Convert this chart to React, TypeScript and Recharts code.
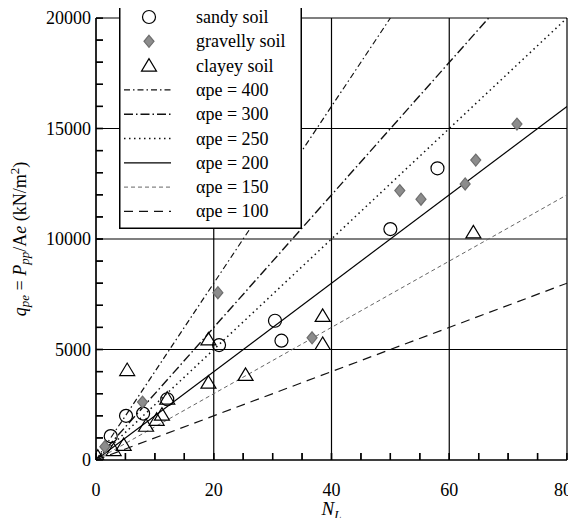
import React from 'react'
import { ScatterChart, Scatter, XAxis, YAxis, CartesianGrid } from 'recharts'

// measured points (N_L, q_pe)
const sandySoil = [
  { n: 2.5, q: 1080 }, { n: 5.1, q: 2000 }, { n: 8.0, q: 2100 }, { n: 12.1, q: 2750 },
  { n: 20.9, q: 5200 }, { n: 30.4, q: 6300 }, { n: 31.5, q: 5400 }, { n: 50.0, q: 10450 },
  { n: 58.0, q: 13200 },
]
const gravellySoil = [
  { n: 1.5, q: 600 }, { n: 7.9, q: 2620 }, { n: 20.7, q: 7570 }, { n: 36.7, q: 5530 },
  { n: 51.6, q: 12190 }, { n: 55.2, q: 11800 }, { n: 62.7, q: 12490 }, { n: 64.5, q: 13570 },
  { n: 71.5, q: 15200 },
]
const clayeySoil = [
  { n: 0.3, q: 150 }, { n: 3.0, q: 450 }, { n: 4.7, q: 680 }, { n: 5.3, q: 4070 },
  { n: 8.5, q: 1550 }, { n: 10.3, q: 1820 }, { n: 11.2, q: 2050 }, { n: 12.1, q: 2780 },
  { n: 19.1, q: 3500 }, { n: 19.1, q: 5460 }, { n: 25.4, q: 3850 }, { n: 38.5, q: 5250 },
  { n: 38.5, q: 6520 }, { n: 64.1, q: 10300 },
]

// q = alpha * N lines, end points
const line400 = [{ n: 0, q: 0 }, { n: 50, q: 20000 }]
const line300 = [{ n: 0, q: 0 }, { n: 66.7, q: 20000 }]
const line250 = [{ n: 0, q: 0 }, { n: 80, q: 20000 }]
const line200 = [{ n: 0, q: 0 }, { n: 80, q: 16000 }]
const line150 = [{ n: 0, q: 0 }, { n: 80, q: 12000 }]
const line100 = [{ n: 0, q: 0 }, { n: 80, q: 8000 }]

const xTicks = [0, 20, 40, 60, 80]
const yTicks = [0, 5000, 10000, 15000, 20000]
const xMinorTicks = [0, 5, 10, 15, 20, 25, 30, 35, 40, 45, 50, 55, 60, 65, 70, 75, 80]
const yMinorTicks = [
  0, 1000, 2000, 3000, 4000, 5000, 6000, 7000, 8000, 9000, 10000,
  11000, 12000, 13000, 14000, 15000, 16000, 17000, 18000, 19000, 20000,
]
// minor tick marks sit on the axes
const xMinorMarks = xMinorTicks.map((n) => ({ n, q: 0 }))
const yMinorMarks = yMinorTicks.map((q) => ({ n: 0, q }))

const FONT = "'Liberation Serif', 'Times New Roman', Times, 'DejaVu Serif', serif"

const lineStyles: Record<string, { dash?: string; width: number; color: string }> = {
  a400: { dash: '6 3 1.5 3', width: 1.2, color: '#111' },
  a300: { dash: '9 3 1.5 3', width: 1.4, color: '#111' },
  a250: { dash: '1.5 3.5', width: 1.5, color: '#111' },
  a200: { width: 1.2, color: '#000' },
  a150: { dash: '4 3', width: 1, color: '#666' },
  a100: { dash: '9 6', width: 1.2, color: '#111' },
}

const legendRows = [
  { kind: 'circle', label: 'sandy soil' },
  { kind: 'diamond', label: 'gravelly soil' },
  { kind: 'triangle', label: 'clayey soil' },
  { kind: 'a400', label: 'αpe = 400' },
  { kind: 'a300', label: 'αpe = 300' },
  { kind: 'a250', label: 'αpe = 250' },
  { kind: 'a200', label: 'αpe = 200' },
  { kind: 'a150', label: 'αpe = 150' },
  { kind: 'a100', label: 'αpe = 100' },
]

const Circle = (p: any) => (
  <circle cx={p.cx} cy={p.cy} r={6.5} fill="none" stroke="#000" strokeWidth={1.2} />
)
const Triangle = (p: any) => (
  <polygon
    points={`${p.cx},${p.cy - 7} ${p.cx - 7.5},${p.cy + 5.5} ${p.cx + 7.5},${p.cy + 5.5}`}
    fill="none" stroke="#000" strokeWidth={1.2}
  />
)
const Diamond = (p: any) => (
  <polygon
    points={`${p.cx},${p.cy - 6} ${p.cx + 5},${p.cy} ${p.cx},${p.cy + 6} ${p.cx - 5},${p.cy}`}
    fill="#8c8c8c" stroke="#6e6e6e" strokeWidth={1.2}
  />
)
const NoDot = () => <g />
const XMinor = (p: any) => (
  <rect x={p.cx - 0.7} y={p.cy - 7} width={1.4} height={7} fill="#000" />
)
const YMinor = (p: any) => (
  <rect x={p.cx} y={p.cy - 0.7} width={7} height={1.4} fill="#000" />
)
const XMinorTick = (p: any) => (
  <line x1={p.x} x2={p.x} y1={p.y} y2={p.y - 7} stroke="#000" strokeWidth={1.3} />
)
const YMinorTick = (p: any) => (
  <line x1={p.x} x2={p.x + 7} y1={p.y} y2={p.y} stroke="#000" strokeWidth={1.3} />
)

const XTick = (p: any) => {
  const v = p.payload.value
  return (
    <text x={v === 80 ? p.x - 4 : p.x} y={p.y} dy="0.71em" textAnchor="middle" fontSize={18}
      fill="#000" style={{ fontFamily: FONT }}>{v}</text>
  )
}

function LegendBox() {
  const rowH = 24.3
  return (
    <svg width={183} height={226} style={{ display: 'block' }}>
      <rect x={0.75} y={0.75} width={181.5} height={224.5} fill="#fff" stroke="#000" strokeWidth={1.5} />
      {legendRows.map((r, i) => {
        const cy = 14 + i * rowH
        let icon: React.ReactNode = null
        if (r.kind === 'circle') icon = <Circle cx={30} cy={cy} />
        else if (r.kind === 'diamond') icon = <Diamond cx={30} cy={cy} />
        else if (r.kind === 'triangle') icon = <Triangle cx={30} cy={cy} />
        else {
          const s = lineStyles[r.kind]
          icon = (
            <line x1={5} x2={52} y1={cy} y2={cy} stroke={s.color}
              strokeWidth={s.width} strokeDasharray={s.dash} />
          )
        }
        return (
          <g key={r.label}>
            {icon}
            <text x={77} y={cy + 6} fontSize={18} fill="#000" style={{ fontFamily: FONT }}>{r.label}</text>
          </g>
        )
      })}
    </svg>
  )
}

const YLabel = (props: any) => {
  const vb = props.viewBox
  const x = vb.x - 16
  const y = vb.y + vb.height / 2
  return (
    <text x={x} y={y} transform={`rotate(-90, ${x}, ${y})`} textAnchor="middle"
      dominantBaseline="central" fontSize={18} fill="#000" style={{ fontFamily: FONT }}>
      <tspan fontStyle="italic">q</tspan>
      <tspan fontStyle="italic" fontSize={13} dy={4}>pe</tspan>
      <tspan dy={-4}> = </tspan>
      <tspan fontStyle="italic">P</tspan>
      <tspan fontStyle="italic" fontSize={13} dy={4}>pp</tspan>
      <tspan dy={-4}>/A</tspan>
      <tspan fontStyle="italic">e</tspan>
      <tspan> (kN/m</tspan>
      <tspan fontSize={13} dy={-6}>2</tspan>
      <tspan dy={6}>)</tspan>
    </text>
  )
}

const XLabel = (props: any) => {
  const vb = props.viewBox
  const x = vb.x + vb.width / 2
  return (
    <text x={x} y={515} textAnchor="middle" fontSize={19} fill="#000" style={{ fontFamily: FONT }}>
      <tspan fontStyle="italic">N</tspan>
      <tspan fontStyle="italic" fontSize={13} dy={4}>L</tspan>
    </text>
  )
}

export default function App() {
  const tickStyle = { fontSize: 18, fill: '#000', style: { fontFamily: FONT } }
  return (
    <div style={{ margin: -8, width: 576, height: 526, background: '#fff', position: 'relative', fontFamily: FONT }}>
      <ScatterChart width={576} height={526} margin={{ top: 18, right: 9, bottom: 36, left: 36 }}>
        <CartesianGrid stroke="#000" strokeWidth={1.2} />
        <XAxis
          type="number" dataKey="n" domain={[0, 80]} ticks={xTicks} allowDataOverflow
          tickLine={false} tickSize={0} tickMargin={23} height={30}
          axisLine={{ stroke: '#000', strokeWidth: 1.2 }} tick={<XTick />}
          label={<XLabel />}
        />
        <YAxis
          type="number" dataKey="q" domain={[0, 20000]} ticks={yTicks} allowDataOverflow
          tickLine={false} tickSize={0} tickMargin={5} width={60}
          axisLine={{ stroke: '#000', strokeWidth: 1.2 }} tick={tickStyle}
          label={<YLabel />}
        />
        <XAxis
          xAxisId="minor" type="number" dataKey="n" domain={[0, 80]} ticks={xMinorTicks}
          tickCount={17} interval={0} mirror height={1} tickSize={0} tickMargin={0}
          axisLine={false} tickLine={false} tick={<XMinorTick />}
        />
        <YAxis
          yAxisId="minor" type="number" dataKey="q" domain={[0, 20000]} ticks={yMinorTicks}
          tickCount={21} interval={0} mirror width={1} tickSize={0} tickMargin={0}
          axisLine={false} tickLine={false} tick={<YMinorTick />}
        />
        {/* the 400 line is bound to the minor axes (same domains) so those axes get drawn */}
        <Scatter
          data={line400} shape={NoDot} isAnimationActive={false} xAxisId="minor" yAxisId="minor"
          line={{ stroke: lineStyles.a400.color, strokeWidth: lineStyles.a400.width, strokeDasharray: lineStyles.a400.dash }}
        />
        {([
          ['a300', line300], ['a250', line250],
          ['a200', line200], ['a150', line150], ['a100', line100],
        ] as [string, any[]][]).map(([k, d]) => (
          <Scatter
            key={k} data={d} shape={NoDot} isAnimationActive={false}
            line={{ stroke: lineStyles[k].color, strokeWidth: lineStyles[k].width, strokeDasharray: lineStyles[k].dash }}
          />
        ))}
        <Scatter data={sandySoil} shape={Circle} isAnimationActive={false} />
        <Scatter data={gravellySoil} shape={Diamond} isAnimationActive={false} />
        <Scatter data={clayeySoil} shape={Triangle} isAnimationActive={false} />
        <Scatter data={xMinorMarks} shape={XMinor} isAnimationActive={false} />
        <Scatter data={yMinorMarks} shape={YMinor} isAnimationActive={false} />
      </ScatterChart>
      <div style={{ position: 'absolute', top: 3, left: 119 }}>
        <LegendBox />
      </div>
    </div>
  )
}
